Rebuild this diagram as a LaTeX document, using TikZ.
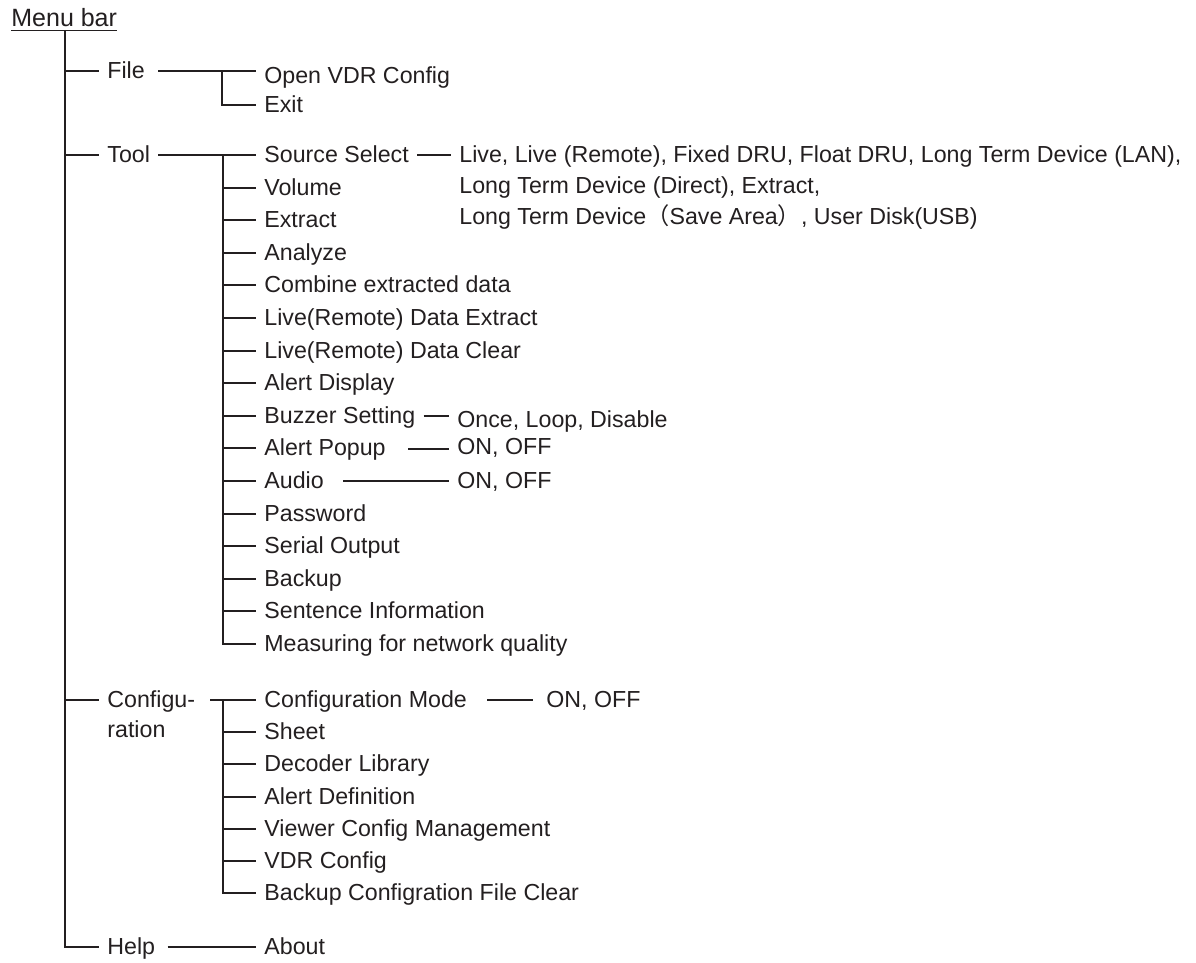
\documentclass[tikz,border=0pt]{standalone}
\usepackage{fontspec}
\setmainfont{Liberation Sans}
\newfontfamily\cjk{Noto Sans CJK JP}
\definecolor{ink}{HTML}{231F20}
\tikzset{
  lbl/.style={anchor=west, inner xsep=4pt, inner ysep=0pt, text height=0.716em, text depth=0pt,
              font=\fontsize{11.6}{15}\selectfont, text=ink},
  wire/.style={draw=ink, line width=1.1pt}
}
\begin{document}
\begin{tikzpicture}[x=0.5pt,y=-0.5pt]
\useasboundingbox (0,0) rectangle (1196,963);

% root
\node[anchor=base west, inner sep=0pt, font=\fontsize{12.5}{15}\selectfont, text=ink] (menubar) at (11,27) {\underline{Menu bar}};
\coordinate (root) at (65,30);

% level 1
\node[lbl] (file) at (99,71) {File};
\node[lbl] (tool) at (99,155) {Tool};
\node[lbl, anchor=north west, align=left, text height=, text depth=] (conf) at (99,690) {Configu-\\ration};
\coordinate (confy) at (99,700);
\node[lbl] (help) at (99,947) {Help};

\draw[wire] (root) |- (help.west);
\draw[wire] (root |- file.west) -- (file.west);
\draw[wire] (root |- tool.west) -- (tool.west);
\draw[wire] (root |- confy) -- (confy);

% File
\node[lbl] (open) at (256,76) {Open VDR Config};
\node[lbl] (exit) at (256,105) {Exit};
\coordinate (ftee) at (222,71);
\draw[wire] ([xshift=2.5pt]file.east) -- (file.east -| open.west);
\draw[wire] (ftee) |- (exit.west);

% Tool
\foreach \i/\t in {1/Source Select,2/Volume,3/Extract,4/Analyze,5/Combine extracted data,
  6/Live(Remote) Data Extract,7/Live(Remote) Data Clear,8/Alert Display,9/Buzzer Setting,
  10/Alert Popup,11/Audio,12/Password,13/Serial Output,14/Backup,15/Sentence Information,
  16/Measuring for network quality}
  \node[lbl] (t\i) at (256,{round(155+32.6*(\i-1))}) {\t};
\coordinate (ttee) at (223,155);
\draw[wire] (tool.east) -- (t1.west);
\draw[wire] (ttee) |- (t16.west);
\foreach \i in {2,...,15} \draw[wire] (ttee |- t\i.west) -- (t\i.west);

% Source select options
\node[lbl] (live1) at (451,155) {Live, Live (Remote), Fixed DRU, Float DRU, Long Term Device (LAN),};
\node[lbl] (live2) at (451,186) {Long Term Device (Direct), Extract,};
\node[lbl] (live3) at (451,217) {Long Term Device{\cjk （}Save Area{\cjk ）}, User Disk(USB)};
\draw[wire] (t1.east) -- (live1.west);

% Buzzer
\node[lbl] (once) at (449,420) {Once, Loop, Disable};
\draw[wire] (t9.east) -- (t9.east -| once.west);
% Alert popup
\node[lbl] (onoffa) at (449,447) {ON, OFF};
\coordinate (aps) at (408,449);
\draw[wire] (aps) -- (aps -| onoffa.west);
% Audio
\node[lbl] (onoffb) at (449,481) {ON, OFF};
\coordinate (aus) at (343,481);
\draw[wire] (aus) -- (onoffb.west);

% Configuration
\foreach \i/\t in {1/Configuration Mode,2/Sheet,3/Decoder Library,4/Alert Definition,
  5/Viewer Config Management,6/VDR Config,7/Backup Configration File Clear}
  \node[lbl] (c\i) at (256,{round(700+32.2*(\i-1))}) {\t};
\coordinate (cfs) at (210,700);
\coordinate (ctee) at (223,700);
\draw[wire] (cfs) -- (c1.west);
\draw[wire] (ctee) |- (c7.west);
\foreach \i in {2,...,6} \draw[wire] (ctee |- c\i.west) -- (c\i.west);
\node[lbl] (onoffc) at (538,700) {ON, OFF};
\coordinate (cms) at (487,700);
\draw[wire] (cms) -- ([xshift=-2.5pt]onoffc.west);

% Help
\node[lbl] (about) at (256,947) {About};
\draw[wire] ([xshift=2pt]help.east) -- (about.west);
\end{tikzpicture}
\end{document}
